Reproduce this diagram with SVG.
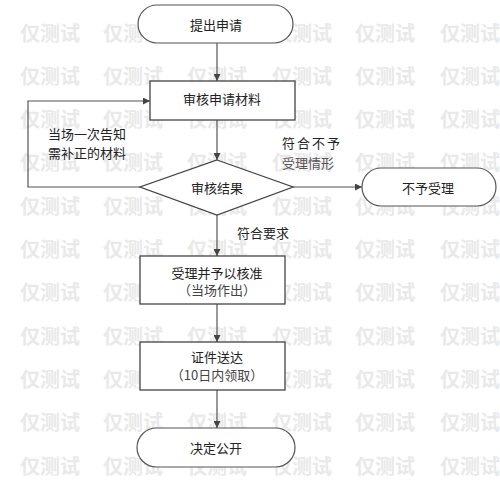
<svg xmlns="http://www.w3.org/2000/svg" width="500" height="480" viewBox="0 0 500 480">
<style>
.wm{font-family:"Noto Sans CJK SC",sans-serif;font-size:20px;font-weight:bold;fill:#e9e9e9}
.shape{fill:none;stroke:#444;stroke-width:1.3}
.term{fill:#fff;stroke:#555;stroke-width:1.2}
.t{font-family:"Noto Sans CJK SC",sans-serif;font-size:13px;fill:#222;text-anchor:middle;dominant-baseline:central}
.lbl{font-family:"Noto Sans CJK SC",sans-serif;font-size:13px;fill:#222;dominant-baseline:central}
.conn{fill:none;stroke:#555;stroke-width:1.2}
</style>
<defs>
<marker id="arr" viewBox="0 0 10 10" refX="10" refY="5" markerWidth="7" markerHeight="7" markerUnits="userSpaceOnUse" orient="auto">
<path d="M0,0 L10,5 L0,10 z" fill="#444"/>
</marker>
</defs>
<rect width="500" height="480" fill="#fff"/>
<g id="watermark">
<text class="wm" x="20" y="41">仅测试</text><text class="wm" x="103" y="41">仅测试</text><text class="wm" x="187" y="41">仅测试</text><text class="wm" x="272" y="41">仅测试</text><text class="wm" x="355" y="41">仅测试</text><text class="wm" x="440" y="41">仅测试</text>
<text class="wm" x="20" y="84">仅测试</text><text class="wm" x="103" y="84">仅测试</text><text class="wm" x="187" y="84">仅测试</text><text class="wm" x="272" y="84">仅测试</text><text class="wm" x="355" y="84">仅测试</text><text class="wm" x="440" y="84">仅测试</text>
<text class="wm" x="20" y="127">仅测试</text><text class="wm" x="103" y="127">仅测试</text><text class="wm" x="187" y="127">仅测试</text><text class="wm" x="272" y="127">仅测试</text><text class="wm" x="355" y="127">仅测试</text><text class="wm" x="440" y="127">仅测试</text>
<text class="wm" x="20" y="170">仅测试</text><text class="wm" x="103" y="170">仅测试</text><text class="wm" x="187" y="170">仅测试</text><text class="wm" x="272" y="170">仅测试</text><text class="wm" x="355" y="170">仅测试</text><text class="wm" x="440" y="170">仅测试</text>
<text class="wm" x="20" y="214">仅测试</text><text class="wm" x="103" y="214">仅测试</text><text class="wm" x="187" y="214">仅测试</text><text class="wm" x="272" y="214">仅测试</text><text class="wm" x="355" y="214">仅测试</text><text class="wm" x="440" y="214">仅测试</text>
<text class="wm" x="20" y="257">仅测试</text><text class="wm" x="103" y="257">仅测试</text><text class="wm" x="187" y="257">仅测试</text><text class="wm" x="272" y="257">仅测试</text><text class="wm" x="355" y="257">仅测试</text><text class="wm" x="440" y="257">仅测试</text>
<text class="wm" x="20" y="300">仅测试</text><text class="wm" x="103" y="300">仅测试</text><text class="wm" x="187" y="300">仅测试</text><text class="wm" x="272" y="300">仅测试</text><text class="wm" x="355" y="300">仅测试</text><text class="wm" x="440" y="300">仅测试</text>
<text class="wm" x="20" y="344">仅测试</text><text class="wm" x="103" y="344">仅测试</text><text class="wm" x="187" y="344">仅测试</text><text class="wm" x="272" y="344">仅测试</text><text class="wm" x="355" y="344">仅测试</text><text class="wm" x="440" y="344">仅测试</text>
<text class="wm" x="20" y="387">仅测试</text><text class="wm" x="103" y="387">仅测试</text><text class="wm" x="187" y="387">仅测试</text><text class="wm" x="272" y="387">仅测试</text><text class="wm" x="355" y="387">仅测试</text><text class="wm" x="440" y="387">仅测试</text>
<text class="wm" x="20" y="430">仅测试</text><text class="wm" x="103" y="430">仅测试</text><text class="wm" x="187" y="430">仅测试</text><text class="wm" x="272" y="430">仅测试</text><text class="wm" x="355" y="430">仅测试</text><text class="wm" x="440" y="430">仅测试</text>
<text class="wm" x="20" y="474">仅测试</text><text class="wm" x="103" y="474">仅测试</text><text class="wm" x="187" y="474">仅测试</text><text class="wm" x="272" y="474">仅测试</text><text class="wm" x="355" y="474">仅测试</text><text class="wm" x="440" y="474">仅测试</text>
</g>
<g id="connectors">
<line class="conn" x1="217" y1="43" x2="217" y2="81" marker-end="url(#arr)"/>
<line class="conn" x1="217" y1="120" x2="217" y2="160" marker-end="url(#arr)"/>
<polyline class="conn" points="140,187 28,187 28,101 150,101" marker-end="url(#arr)"/>
<line class="conn" x1="293" y1="187" x2="362" y2="187" marker-end="url(#arr)"/>
<line class="conn" x1="217" y1="215" x2="217" y2="256" marker-end="url(#arr)"/>
<line class="conn" x1="217" y1="304" x2="217" y2="342" marker-end="url(#arr)"/>
<line class="conn" x1="217" y1="390" x2="217" y2="428" marker-end="url(#arr)"/>
<text class="lbl" x="48" y="133">当场一次告知</text>
<text class="lbl" x="48" y="152">需补正的材料</text>
<text class="lbl" x="282" y="142" letter-spacing="2">符合不予</text>
<text class="lbl" x="282" y="162" style="fill:#555">受理情形</text>
<text class="lbl" x="237" y="232">符合要求</text>
</g>
<g id="n1">
<rect class="term" x="138" y="5" width="155" height="38" rx="19"/>
<text class="t" x="216" y="24">提出申请</text>
</g>
<g id="n2">
<rect class="shape" x="150" y="81" width="145" height="39" style="fill:#fff"/>
<text class="t" x="222" y="98">审核申请材料</text>
</g>
<g id="n3">
<polygon class="shape" points="217,160 293,187 217,215 140,187" style="fill:#fff"/>
<text class="t" x="217" y="187">审核结果</text>
</g>
<g id="n4">
<rect class="term" x="362" y="168" width="134" height="38" rx="19"/>
<text class="t" x="428" y="187">不予受理</text>
</g>
<g id="n5">
<rect class="shape" x="140" y="256" width="145" height="48" style="fill:#fff"/>
<text class="t" x="217" y="272">受理并予以核准</text>
<text class="t" x="217" y="289" style="fill:#444">（当场作出）</text>
</g>
<g id="n6">
<rect class="shape" x="140" y="342" width="145" height="48" style="fill:#fff"/>
<text class="t" x="217" y="356">证件送达</text>
<text class="t" x="217" y="374" style="fill:#444">（10日内领取）</text>
</g>
<g id="n7">
<rect class="term" x="137" y="428" width="158" height="39" rx="19.5"/>
<text class="t" x="216" y="447">决定公开</text>
</g>
</svg>
